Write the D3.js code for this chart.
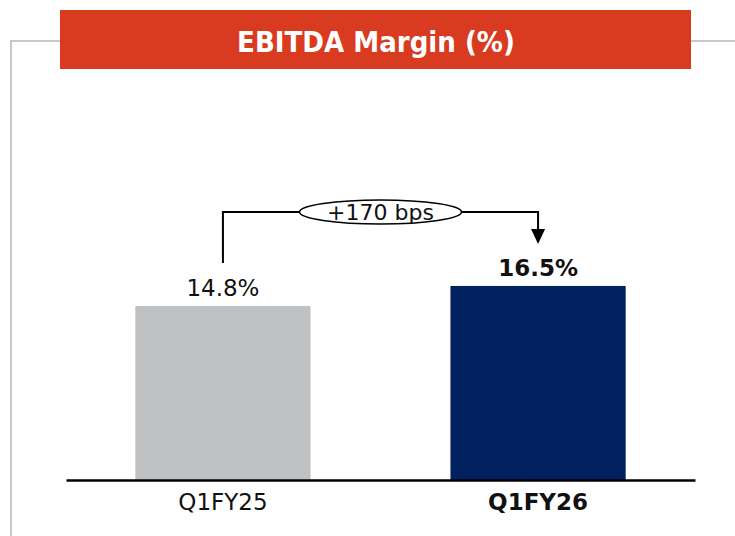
<!DOCTYPE html>
<html>
<head>
<meta charset="utf-8">
<script src="https://cdn.jsdelivr.net/npm/d3@7"></script>
<style>
	body { margin: 0; background: #fff; }
	svg { display: block; font-family: "DejaVu Sans", sans-serif; }
</style>
</head>
<body>
<svg></svg>
<script>
const categories = ["Q1FY25", "Q1FY26"];
const values = [14.8, 16.5];
const valueLabels = ["14.8%", "16.5%"];
const changeLabel = "+170 bps";
const title = "EBITDA Margin (%)";

const barColors = ["#c0c1c3", "#012060"];

const svg = d3.select("svg");
svg.attr("width", 735).attr("height", 536);

// grey frame behind the banner
svg.append("path")
	.attr("d", "M11,536 V41 H735")
	.attr("fill", "none")
	.attr("stroke", "#c8c8c8")
	.attr("stroke-width", 2);

svg.append("rect")
	.attr("x", 60).attr("y", 10)
	.attr("width", 631).attr("height", 59)
	.attr("fill", "#d93b20");

svg.append("text")
	.attr("x", 376).attr("y", 52)
	.attr("text-anchor", "middle")
	.attr("fill", "#fff")
	.style("font-family", "'DejaVu Sans Condensed', 'DejaVu Sans', sans-serif")
	.style("font-weight", "bold")
	.style("font-size", "29px")
	.text(title);

const x = d3.scaleBand()
	.domain(categories)
	.range([66, 695])
	.paddingInner(0.444)
	.paddingOuter(0.22);

const y = d3.scaleLinear().domain([0, 20]).range([480, 244.8]);

svg.append("g")
	.selectAll("rect")
	.data(values)
	.join("rect")
	.attr("x", (d, i) => x(categories[i]))
	.attr("y", (d) => y(d))
	.attr("width", x.bandwidth())
	.attr("height", (d) => y(0) - y(d))
	.attr("fill", (d, i) => barColors[i]);

const xAxis = d3.axisBottom(x).tickSize(0).tickPadding(14);
const axisG = svg.append("g").attr("transform", "translate(0,480)").call(xAxis);
axisG.select(".domain").attr("stroke", "#000").attr("stroke-width", 2.5);
axisG.selectAll(".tick text")
	.style("font-family", "'DejaVu Sans', sans-serif")
	.style("font-size", "23px")
	.attr("fill", "#111")
	.style("font-weight", (d, i) => (i === 1 ? "bold" : "normal"));

svg.append("g")
	.selectAll("text")
	.data(values)
	.join("text")
	.attr("x", (d, i) => x(categories[i]) + x.bandwidth() / 2)
	.attr("y", (d) => y(d) - 10)
	.attr("text-anchor", "middle")
	.style("font-size", "23px")
	.style("font-weight", (d, i) => (i === 1 ? "bold" : "normal"))
	.attr("fill", "#111")
	.text((d, i) => valueLabels[i]);

// change annotation
const x1 = x(categories[0]) + x.bandwidth() / 2;
const x2 = x(categories[1]) + x.bandwidth() / 2;
const yTop = 212;
const cx = (x1 + x2) / 2;
const rx = 81, ry = 12;
const tipY = y(values[1]) - 42;

svg.append("path")
	.attr("d", `M${x1},${y(values[0]) - 43} V${yTop} H${cx - rx}`)
	.attr("fill", "none").attr("stroke", "#000").attr("stroke-width", 2);
svg.append("path")
	.attr("d", `M${cx + rx},${yTop} H${x2} V${tipY - 14}`)
	.attr("fill", "none").attr("stroke", "#000").attr("stroke-width", 2);
svg.append("path")
	.attr("d", `M${x2 - 7},${tipY - 15} L${x2 + 7},${tipY - 15} L${x2},${tipY} Z`)
	.attr("fill", "#000");

svg.append("ellipse")
	.attr("cx", cx).attr("cy", yTop)
	.attr("rx", rx).attr("ry", ry)
	.attr("fill", "#fff").attr("stroke", "#000").attr("stroke-width", 1.5);

svg.append("text")
	.attr("x", cx).attr("y", yTop + 8)
	.attr("text-anchor", "middle")
	.style("font-size", "22px")
	.attr("fill", "#111")
	.text(changeLabel);
</script>
</body>
</html>
